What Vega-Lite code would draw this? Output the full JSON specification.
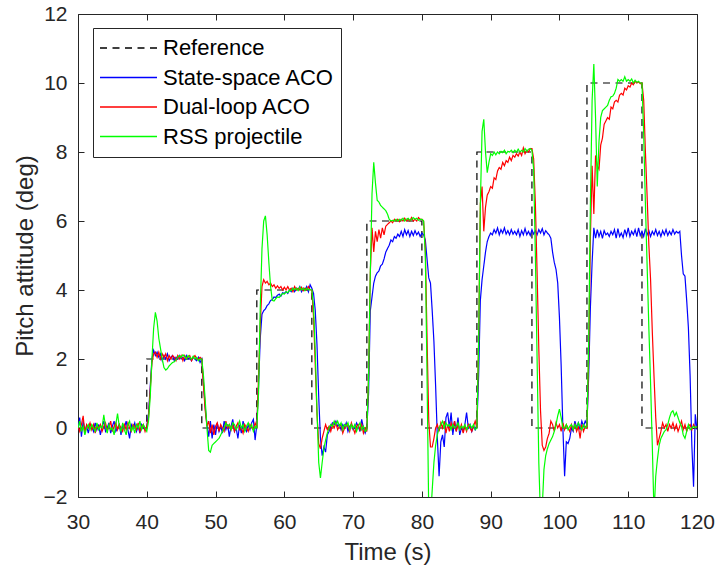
{
"$schema":"https://vega.github.io/schema/vega-lite/v6.json",
"width":619,"height":483,
"autosize":{"type":"none"},
"padding":{"left":78,"top":14,"right":19,"bottom":73},
"background":"white",
"config":{
 "view":{"stroke":"#262626","strokeWidth":1},
 "font":"Liberation Sans",
 "axis":{"grid":false,"domain":false,"labelFlush":false,"labelOverlap":false,"tickColor":"#262626","tickSize":-6,"tickWidth":1,"labelColor":"#262626","labelFontSize":21,"labelFont":"Liberation Sans","titleFont":"Liberation Sans","titleFontSize":24,"titleFontWeight":"normal","titleColor":"#262626"},
 "legend":{"orient":"none","legendX":15,"legendY":14,"symbolType":"stroke","symbolSize":3249,"symbolStrokeWidth":1.3,"clipHeight":28,"rowPadding":1.5,"labelFontSize":22,"labelFont":"Liberation Sans","labelColor":"#000000","labelLimit":400,"labelOffset":5,"padding":6,"fillColor":"#ffffff","strokeColor":"#262626","cornerRadius":0}
},
"datasets":{
"ref":[{"t":30,"v":0,"s":"r","i":0},{"t":40,"v":0,"s":"r","i":1},{"t":40,"v":2,"s":"r","i":2},{"t":48,"v":2,"s":"r","i":3},{"t":48,"v":0,"s":"r","i":4},{"t":56,"v":0,"s":"r","i":5},{"t":56,"v":4,"s":"r","i":6},{"t":64,"v":4,"s":"r","i":7},{"t":64,"v":0,"s":"r","i":8},{"t":72,"v":0,"s":"r","i":9},{"t":72,"v":6,"s":"r","i":10},{"t":80,"v":6,"s":"r","i":11},{"t":80,"v":0,"s":"r","i":12},{"t":88,"v":0,"s":"r","i":13},{"t":88,"v":8,"s":"r","i":14},{"t":96,"v":8,"s":"r","i":15},{"t":96,"v":0,"s":"r","i":16},{"t":104,"v":0,"s":"r","i":17},{"t":104,"v":10,"s":"r","i":18},{"t":112,"v":10,"s":"r","i":19},{"t":112,"v":0,"s":"r","i":20},{"t":120,"v":0,"s":"r","i":21}],
"sim":[
{"t":30,"b":-0.05,"d":0.05,"g":0},{"t":30.25,"b":0.3,"d":-0.1,"g":0.2},{"t":30.5,"b":-0.25,"d":0.1,"g":-0.1},{"t":30.75,"b":0.2,"d":0.35,"g":0.05},
{"t":31,"b":-0.1,"d":-0.15,"g":-0.2},{"t":31.25,"b":0.05,"d":0.1,"g":0},{"t":31.5,"b":-0.15,"d":0,"g":0.1},{"t":31.75,"b":0.1,"d":0.15,"g":-0.05},
{"t":32,"b":0.05,"d":-0.05,"g":0.1},{"t":32.25,"b":-0.1,"d":0.1,"g":0},{"t":32.5,"b":0.15,"d":-0.15,"g":-0.1},{"t":32.75,"b":-0.05,"d":0.05,"g":0.15},
{"t":33,"b":0.1,"d":0,"g":-0.05},{"t":33.25,"b":-0.2,"d":0.1,"g":0.05},{"t":33.5,"b":0.05,"d":-0.1,"g":0},{"t":33.75,"b":0.2,"d":0.05,"g":0.38},
{"t":34,"b":-0.1,"d":0.15,"g":0.05},{"t":34.25,"b":0,"d":-0.05,"g":-0.15},{"t":34.5,"b":0.15,"d":0,"g":0.1},{"t":34.75,"b":-0.15,"d":0.2,"g":-0.05},
{"t":35,"b":0.05,"d":-0.1,"g":0},{"t":35.25,"b":0.2,"d":0.05,"g":-0.2},{"t":35.5,"b":-0.1,"d":0.15,"g":0.1},{"t":35.75,"b":0,"d":-0.05,"g":0.42},
{"t":36,"b":0.1,"d":0.1,"g":0.05},{"t":36.25,"b":-0.2,"d":0,"g":-0.1},{"t":36.5,"b":0.1,"d":-0.1,"g":0.15},{"t":36.75,"b":0,"d":0.1,"g":-0.05},
{"t":37,"b":0.2,"d":-0.05,"g":-0.2},{"t":37.25,"b":-0.05,"d":0.15,"g":0.1},{"t":37.5,"b":-0.3,"d":0,"g":0.2},{"t":37.75,"b":0.1,"d":-0.1,"g":-0.1},
{"t":38,"b":0,"d":0.1,"g":0.05},{"t":38.25,"b":0.15,"d":0.05,"g":-0.15},{"t":38.5,"b":-0.1,"d":-0.05,"g":0.1},{"t":38.75,"b":0.05,"d":0.15,"g":0},
{"t":39,"b":-0.15,"d":-0.1,"g":0.2},{"t":39.25,"b":0.1,"d":0.05,"g":-0.05},{"t":39.5,"b":0,"d":0.1,"g":0.1},{"t":39.75,"b":-0.05,"d":-0.1,"g":0},
{"t":40,"b":0.05,"d":0.05,"g":-0.1},{"t":40.25,"b":0.4,"d":0.3,"g":0.2},{"t":40.5,"b":1.2,"d":1.1,"g":0.9},{"t":40.75,"b":2,"d":1.9,"g":2},
{"t":41,"b":2.25,"d":2.15,"g":2.9},{"t":41.25,"b":2.1,"d":2.2,"g":3.35},{"t":41.5,"b":2.2,"d":2.05,"g":3.1},{"t":41.75,"b":2.05,"d":2.2,"g":2.6},
{"t":42,"b":2.15,"d":2,"g":2.3},{"t":42.25,"b":1.95,"d":2.15,"g":2},{"t":42.5,"b":2.1,"d":2.05,"g":1.75},{"t":42.75,"b":2,"d":2.15,"g":1.68},
{"t":43,"b":2.15,"d":1.95,"g":1.72},{"t":43.25,"b":1.95,"d":2.1,"g":1.8},{"t":43.5,"b":2.05,"d":2,"g":1.85},{"t":43.75,"b":2.1,"d":2.1,"g":1.9},
{"t":44,"b":1.95,"d":2.05,"g":1.92},{"t":44.25,"b":2.05,"d":1.95,"g":1.98},{"t":44.5,"b":2,"d":2.1,"g":2.05},{"t":44.75,"b":2.1,"d":2,"g":2.1},
{"t":45,"b":2,"d":2.1,"g":2.05},{"t":45.25,"b":2.05,"d":1.95,"g":2.12},{"t":45.5,"b":1.95,"d":2.1,"g":2.08},{"t":45.75,"b":2.1,"d":2,"g":2},
{"t":46,"b":2,"d":2.05,"g":2.1},{"t":46.25,"b":2.05,"d":2.1,"g":2.05},{"t":46.5,"b":1.95,"d":1.95,"g":2},{"t":46.75,"b":2.05,"d":2.05,"g":2.08},
{"t":47,"b":2,"d":2.1,"g":2},{"t":47.25,"b":1.95,"d":2,"g":2.05},{"t":47.5,"b":2.05,"d":2,"g":1.95},{"t":47.75,"b":1.9,"d":2.05,"g":2},
{"t":48,"b":2,"d":2,"g":2},{"t":48.25,"b":1.3,"d":1.2,"g":1.5},{"t":48.5,"b":0.6,"d":0.5,"g":0.8},{"t":48.75,"b":0.1,"d":0.05,"g":0},
{"t":49,"b":-0.25,"d":0.2,"g":-0.65},{"t":49.25,"b":0.2,"d":-0.15,"g":-0.7},{"t":49.5,"b":-0.3,"d":0.1,"g":-0.5},{"t":49.75,"b":0.1,"d":-0.2,"g":-0.45},
{"t":50,"b":-0.2,"d":0.05,"g":-0.4},{"t":50.25,"b":0.15,"d":0.15,"g":-0.35},{"t":50.5,"b":-0.1,"d":-0.1,"g":-0.3},{"t":50.75,"b":0.05,"d":0.1,"g":-0.2},
{"t":51,"b":-0.15,"d":0,"g":-0.1},{"t":51.25,"b":0.2,"d":-0.1,"g":0},{"t":51.5,"b":-0.05,"d":0.2,"g":0.15},{"t":51.75,"b":0.1,"d":0,"g":0.05},
{"t":52,"b":-0.25,"d":0.1,"g":0.1},{"t":52.25,"b":0.05,"d":-0.05,"g":-0.05},{"t":52.5,"b":0.25,"d":0.1,"g":0.15},{"t":52.75,"b":-0.1,"d":-0.1,"g":0.1},
{"t":53,"b":0,"d":0.05,"g":-0.05},{"t":53.25,"b":-0.3,"d":0.15,"g":0.05},{"t":53.5,"b":0.1,"d":-0.05,"g":0.2},{"t":53.75,"b":-0.15,"d":0,"g":0},
{"t":54,"b":0.2,"d":-0.15,"g":0.1},{"t":54.25,"b":0,"d":0.1,"g":-0.1},{"t":54.5,"b":-0.1,"d":0,"g":0.05},{"t":54.75,"b":0.1,"d":-0.1,"g":0.15},
{"t":55,"b":-0.05,"d":0.1,"g":0},{"t":55.25,"b":0.15,"d":0,"g":0.1},{"t":55.5,"b":0.25,"d":-0.05,"g":-0.1},{"t":55.75,"b":-0.35,"d":0.15,"g":0.05},
{"t":56,"b":0.1,"d":0,"g":0},{"t":56.25,"b":1.2,"d":1.5,"g":1},{"t":56.5,"b":2.6,"d":3,"g":3.5},{"t":56.75,"b":3.3,"d":4.1,"g":5.2},
{"t":57,"b":3.4,"d":4.3,"g":6},{"t":57.25,"b":3.45,"d":4.2,"g":6.15},{"t":57.5,"b":3.55,"d":4.25,"g":5.6},{"t":57.75,"b":3.6,"d":4.15,"g":4.8},
{"t":58,"b":3.7,"d":4.2,"g":4.1},{"t":58.25,"b":3.72,"d":4.1,"g":3.7},{"t":58.5,"b":3.8,"d":4.15,"g":3.68},{"t":58.75,"b":3.78,"d":4.05,"g":3.75},
{"t":59,"b":3.85,"d":4.12,"g":3.8},{"t":59.25,"b":3.88,"d":4.05,"g":3.78},{"t":59.5,"b":3.82,"d":4.1,"g":3.85},{"t":59.75,"b":3.92,"d":4,"g":3.9},
{"t":60,"b":3.9,"d":4.08,"g":3.88},{"t":60.25,"b":3.95,"d":4,"g":3.95},{"t":60.5,"b":3.9,"d":4.1,"g":3.92},{"t":60.75,"b":4,"d":4,"g":4},
{"t":61,"b":3.95,"d":4.05,"g":3.98},{"t":61.25,"b":4.05,"d":3.95,"g":4.05},{"t":61.5,"b":3.95,"d":4.1,"g":4},{"t":61.75,"b":4.05,"d":4,"g":4.05},
{"t":62,"b":4,"d":4.05,"g":3.98},{"t":62.25,"b":4.1,"d":4,"g":4.08},{"t":62.5,"b":3.95,"d":4.08,"g":4},{"t":62.75,"b":4.05,"d":3.98,"g":4.05},
{"t":63,"b":4,"d":4.05,"g":3.98},{"t":63.25,"b":4.1,"d":4,"g":4.05},{"t":63.5,"b":3.95,"d":4.1,"g":4},{"t":63.75,"b":4.15,"d":4,"g":4.02},
{"t":64,"b":4.05,"d":4,"g":4},{"t":64.25,"b":3.9,"d":3.2,"g":3.5},{"t":64.5,"b":3.4,"d":1.8,"g":2.2},{"t":64.75,"b":2.4,"d":0.4,"g":0.5},
{"t":65,"b":0.9,"d":-0.45,"g":-1},{"t":65.25,"b":-0.3,"d":-0.6,"g":-1.45},{"t":65.5,"b":-0.8,"d":-0.3,"g":-1},{"t":65.75,"b":-0.55,"d":-0.1,"g":-0.6},
{"t":66,"b":-0.7,"d":0.1,"g":-0.35},{"t":66.25,"b":-0.2,"d":-0.05,"g":-0.15},{"t":66.5,"b":-0.1,"d":0.05,"g":0},{"t":66.75,"b":0.05,"d":-0.1,"g":0.1},
{"t":67,"b":0.15,"d":0.1,"g":0.05},{"t":67.25,"b":0.1,"d":0,"g":0.2},{"t":67.5,"b":0.2,"d":0.15,"g":0.1},{"t":67.75,"b":0.05,"d":-0.05,"g":0.2},
{"t":68,"b":0.1,"d":0.05,"g":0.05},{"t":68.25,"b":-0.05,"d":0.1,"g":0.15},{"t":68.5,"b":0.1,"d":-0.15,"g":-0.05},{"t":68.75,"b":0,"d":0,"g":0.1},
{"t":69,"b":0.15,"d":0.1,"g":0.05},{"t":69.25,"b":-0.1,"d":0.05,"g":0.15},{"t":69.5,"b":0.05,"d":-0.1,"g":-0.05},{"t":69.75,"b":0.1,"d":0.15,"g":0.1},
{"t":70,"b":-0.05,"d":0,"g":0},{"t":70.25,"b":0,"d":-0.15,"g":0.1},{"t":70.5,"b":0.15,"d":0.05,"g":-0.1},{"t":70.75,"b":0.05,"d":0.1,"g":0.05},
{"t":71,"b":-0.1,"d":-0.05,"g":0.15},{"t":71.25,"b":0.25,"d":0.1,"g":-0.05},{"t":71.5,"b":0,"d":-0.15,"g":0.05},{"t":71.75,"b":-0.15,"d":0,"g":-0.1},
{"t":72,"b":0,"d":-0.1,"g":-0.05},{"t":72.25,"b":1,"d":1.5,"g":1.5},{"t":72.5,"b":3.4,"d":4.5,"g":4.5},{"t":72.75,"b":3.8,"d":5.8,"g":6.8},
{"t":73,"b":4.2,"d":5.1,"g":7.7},{"t":73.25,"b":4.4,"d":5.7,"g":7.1},{"t":73.5,"b":4.5,"d":5.4,"g":6.6},{"t":73.75,"b":4.55,"d":5.75,"g":6.55},
{"t":74,"b":4.7,"d":5.5,"g":6.45},{"t":74.25,"b":4.75,"d":5.8,"g":6.4},{"t":74.5,"b":4.9,"d":5.6,"g":6.35},{"t":74.75,"b":5.1,"d":5.85,"g":6.3},
{"t":75,"b":5.2,"d":5.9,"g":6.2},{"t":75.25,"b":5.3,"d":5.95,"g":6.05},{"t":75.5,"b":5.45,"d":6,"g":6},{"t":75.75,"b":5.4,"d":5.95,"g":6.02},
{"t":76,"b":5.55,"d":6.05,"g":6},{"t":76.25,"b":5.5,"d":6,"g":6.05},{"t":76.5,"b":5.62,"d":6.05,"g":6},{"t":76.75,"b":5.55,"d":5.98,"g":6.05},
{"t":77,"b":5.7,"d":6.05,"g":6.02},{"t":77.25,"b":5.55,"d":6,"g":6.08},{"t":77.5,"b":5.75,"d":6.08,"g":6},{"t":77.75,"b":5.6,"d":6,"g":6.05},
{"t":78,"b":5.72,"d":6.05,"g":6.08},{"t":78.25,"b":5.55,"d":6,"g":6.02},{"t":78.5,"b":5.7,"d":6.1,"g":6.05},{"t":78.75,"b":5.58,"d":6,"g":6.1},
{"t":79,"b":5.72,"d":6.05,"g":6.05},{"t":79.25,"b":5.6,"d":6,"g":6.08},{"t":79.5,"b":5.68,"d":6.1,"g":6.02},{"t":79.75,"b":5.55,"d":6.05,"g":6.05},
{"t":80,"b":5.65,"d":6.05,"g":6.05},{"t":80.25,"b":5.6,"d":6,"g":6},{"t":80.5,"b":5.45,"d":5.2,"g":5},{"t":80.75,"b":4.9,"d":2.6,"g":1.5},
{"t":81,"b":4.35,"d":0.2,"g":-2.5},{"t":81.25,"b":4.2,"d":-0.55,"g":-2.6},{"t":81.5,"b":3.4,"d":-0.55,"g":-1.8},{"t":81.75,"b":2.5,"d":-0.3,"g":-1},
{"t":82,"b":1.2,"d":0,"g":-0.5},{"t":82.25,"b":-0.3,"d":0.1,"g":-0.2},{"t":82.5,"b":-1.4,"d":-0.1,"g":0},{"t":82.75,"b":-0.4,"d":0.15,"g":0.1},
{"t":83,"b":-0.2,"d":0,"g":0.2},{"t":83.25,"b":-0.55,"d":0.2,"g":0},{"t":83.5,"b":0.3,"d":-0.15,"g":0.15},{"t":83.75,"b":0.45,"d":0.1,"g":0.05},
{"t":84,"b":0,"d":-0.1,"g":0.1},{"t":84.25,"b":0.45,"d":0.15,"g":-0.05},{"t":84.5,"b":-0.2,"d":0,"g":0.1},{"t":84.75,"b":0.2,"d":0.2,"g":0},
{"t":85,"b":-0.1,"d":-0.1,"g":0.05},{"t":85.25,"b":0.3,"d":0.1,"g":0.15},{"t":85.5,"b":-0.2,"d":-0.05,"g":-0.05},{"t":85.75,"b":0,"d":0.1,"g":0.05},
{"t":86,"b":-0.1,"d":-0.15,"g":0},{"t":86.25,"b":0.1,"d":0.05,"g":0.1},{"t":86.5,"b":0.45,"d":-0.1,"g":-0.05},{"t":86.75,"b":0,"d":0.1,"g":0.05},
{"t":87,"b":0.1,"d":0,"g":0.1},{"t":87.25,"b":-0.1,"d":-0.1,"g":0},{"t":87.5,"b":0.05,"d":0.05,"g":0.1},{"t":87.75,"b":-0.05,"d":0.2,"g":-0.05},
{"t":88,"b":0.1,"d":0,"g":0},{"t":88.25,"b":1.5,"d":2.5,"g":2.5},{"t":88.5,"b":3.7,"d":6.5,"g":6.5},{"t":88.75,"b":4.3,"d":7,"g":8.6},
{"t":89,"b":4.7,"d":5.7,"g":8.95},{"t":89.25,"b":5.1,"d":6.4,"g":8},{"t":89.5,"b":5.4,"d":6.75,"g":7.4},{"t":89.75,"b":5.55,"d":6.85,"g":7.7},
{"t":90,"b":5.65,"d":7,"g":7.95},{"t":90.25,"b":5.6,"d":6.95,"g":7.9},{"t":90.5,"b":5.75,"d":7.25,"g":8},{"t":90.75,"b":5.65,"d":7.2,"g":7.92},
{"t":91,"b":5.8,"d":7.45,"g":8},{"t":91.25,"b":5.6,"d":7.55,"g":7.95},{"t":91.5,"b":5.75,"d":7.5,"g":8.02},{"t":91.75,"b":5.65,"d":7.7,"g":7.98},
{"t":92,"b":5.8,"d":7.6,"g":8.05},{"t":92.25,"b":5.62,"d":7.75,"g":7.95},{"t":92.5,"b":5.72,"d":7.7,"g":8.02},{"t":92.75,"b":5.6,"d":7.85,"g":8},
{"t":93,"b":5.75,"d":7.75,"g":8.05},{"t":93.25,"b":5.62,"d":7.9,"g":7.98},{"t":93.5,"b":5.7,"d":7.85,"g":8.05},{"t":93.75,"b":5.6,"d":7.95,"g":8},
{"t":94,"b":5.75,"d":7.88,"g":8.08},{"t":94.25,"b":5.55,"d":8,"g":8},{"t":94.5,"b":5.72,"d":7.9,"g":8.05},{"t":94.75,"b":5.6,"d":8.12,"g":8},
{"t":95,"b":5.78,"d":7.95,"g":8.1},{"t":95.25,"b":5.6,"d":8.05,"g":8.02},{"t":95.5,"b":5.7,"d":8,"g":8.08},{"t":95.75,"b":5.58,"d":8.1,"g":8.1},
{"t":96,"b":5.75,"d":8.1,"g":8.05},{"t":96.25,"b":5.62,"d":7.8,"g":7.5},{"t":96.5,"b":5.72,"d":6.5,"g":5},{"t":96.75,"b":5.6,"d":4.5,"g":2},
{"t":97,"b":5.75,"d":2.3,"g":-1},{"t":97.25,"b":5.65,"d":0.5,"g":-2.6},{"t":97.5,"b":5.78,"d":-0.5,"g":-2.3},{"t":97.75,"b":5.6,"d":-0.65,"g":-1.2},
{"t":98,"b":5.72,"d":-0.55,"g":-0.8},{"t":98.25,"b":5.65,"d":-0.3,"g":-0.6},{"t":98.5,"b":5.6,"d":-0.15,"g":-0.45},{"t":98.75,"b":5.5,"d":0.2,"g":-0.35},
{"t":99,"b":5.1,"d":0.1,"g":-0.25},{"t":99.25,"b":4.8,"d":-0.1,"g":-0.1},{"t":99.5,"b":4.6,"d":0.15,"g":0.1},{"t":99.75,"b":4.2,"d":0,"g":0.35},
{"t":100,"b":3.2,"d":0.1,"g":0.55},{"t":100.25,"b":1.8,"d":-0.1,"g":0.3},{"t":100.5,"b":0,"d":0.15,"g":0},{"t":100.75,"b":-1.4,"d":-0.05,"g":0},
{"t":101,"b":-0.4,"d":0.1,"g":0.1},{"t":101.25,"b":-0.45,"d":0,"g":-0.05},{"t":101.5,"b":-0.3,"d":-0.1,"g":0.05},{"t":101.75,"b":0,"d":0.1,"g":0.1},
{"t":102,"b":-0.1,"d":-0.05,"g":-0.05},{"t":102.25,"b":0.2,"d":0.1,"g":0.1},{"t":102.5,"b":0,"d":-0.1,"g":0},{"t":102.75,"b":0.15,"d":0.05,"g":0.15},
{"t":103,"b":-0.05,"d":-0.3,"g":0.05},{"t":103.25,"b":0.2,"d":0.1,"g":-0.05},{"t":103.5,"b":0.05,"d":-0.1,"g":0.1},{"t":103.75,"b":0.2,"d":0.05,"g":0},
{"t":104,"b":0.1,"d":0,"g":0.05},{"t":104.25,"b":1.5,"d":2,"g":2.5},{"t":104.5,"b":3.5,"d":5.5,"g":6.5},{"t":104.75,"b":4.8,"d":7.6,"g":9.5},
{"t":105,"b":5.8,"d":6.2,"g":10.55},{"t":105.25,"b":5.5,"d":7.9,"g":9},{"t":105.5,"b":5.75,"d":7.6,"g":7},{"t":105.75,"b":5.55,"d":7.5,"g":8.3},
{"t":106,"b":5.7,"d":8.2,"g":9},{"t":106.25,"b":5.5,"d":8.4,"g":9.2},{"t":106.5,"b":5.72,"d":8.8,"g":9.25},{"t":106.75,"b":5.6,"d":8.9,"g":9.3},
{"t":107,"b":5.65,"d":9,"g":9.35},{"t":107.25,"b":5.55,"d":8.95,"g":9.5},{"t":107.5,"b":5.7,"d":9.3,"g":9.6},{"t":107.75,"b":5.6,"d":9.25,"g":9.62},
{"t":108,"b":5.75,"d":9.45,"g":9.7},{"t":108.25,"b":5.5,"d":9.5,"g":9.85},{"t":108.5,"b":5.78,"d":9.45,"g":10.1},{"t":108.75,"b":5.55,"d":9.65,"g":10.05},
{"t":109,"b":5.65,"d":9.7,"g":10.1},{"t":109.25,"b":5.52,"d":9.65,"g":10.05},{"t":109.5,"b":5.75,"d":9.85,"g":10.18},{"t":109.75,"b":5.58,"d":9.8,"g":10.05},
{"t":110,"b":5.8,"d":9.92,"g":10.1},{"t":110.25,"b":5.55,"d":9.88,"g":10.05},{"t":110.5,"b":5.7,"d":10,"g":10.12},{"t":110.75,"b":5.6,"d":9.95,"g":10},
{"t":111,"b":5.75,"d":10.05,"g":10.08},{"t":111.25,"b":5.55,"d":10,"g":10.02},{"t":111.5,"b":5.8,"d":10.03,"g":10.05},{"t":111.75,"b":5.58,"d":9.98,"g":10},
{"t":112,"b":5.7,"d":10,"g":10},{"t":112.25,"b":5.55,"d":9.5,"g":8.5},{"t":112.5,"b":5.78,"d":8,"g":6.5},{"t":112.75,"b":5.6,"d":6.7,"g":4.7},
{"t":113,"b":5.72,"d":5.3,"g":2.9},{"t":113.25,"b":5.55,"d":4.3,"g":1.3},{"t":113.5,"b":5.7,"d":2.8,"g":-0.5},{"t":113.75,"b":5.6,"d":1.5,"g":-2.5},
{"t":114,"b":5.75,"d":0.3,"g":-1.4},{"t":114.25,"b":5.58,"d":-0.5,"g":-0.9},{"t":114.5,"b":5.7,"d":-0.3,"g":-0.5},{"t":114.75,"b":5.55,"d":-0.1,"g":-0.3},
{"t":115,"b":5.72,"d":0.15,"g":-0.2},{"t":115.25,"b":5.6,"d":0,"g":-0.1},{"t":115.5,"b":5.75,"d":0.1,"g":-0.05},{"t":115.75,"b":5.58,"d":-0.1,"g":0.1},
{"t":116,"b":5.7,"d":0.1,"g":0.3},{"t":116.25,"b":5.6,"d":0,"g":0.45},{"t":116.5,"b":5.75,"d":0.15,"g":0.5},{"t":116.75,"b":5.62,"d":-0.05,"g":0.35},
{"t":117,"b":5.7,"d":0.1,"g":0.45},{"t":117.25,"b":5.65,"d":-0.1,"g":0.3},{"t":117.5,"b":5.7,"d":0.05,"g":0.15},{"t":117.75,"b":5,"d":0.2,"g":0.05},
{"t":118,"b":4.47,"d":-0.05,"g":-0.2},{"t":118.25,"b":4.4,"d":0.1,"g":-0.3},{"t":118.5,"b":3.7,"d":-0.1,"g":-0.1},{"t":118.75,"b":2.9,"d":0.05,"g":0.1},
{"t":119,"b":1.5,"d":0.1,"g":-0.05},{"t":119.25,"b":-0.5,"d":-0.05,"g":0},{"t":119.5,"b":-1.7,"d":0.1,"g":0.05},{"t":119.75,"b":0.4,"d":0,"g":0},
{"t":120,"b":-0.05,"d":0.05,"g":0.05}
]},
"layer":[
{"data":{"name":"ref"},
 "mark":{"type":"line","strokeWidth":1.2,"clip":true},
 "encoding":{
  "x":{"field":"t","type":"quantitative","scale":{"domain":[30,120],"nice":false,"zero":false},
       "axis":{"orient":"bottom","values":[30,40,50,60,70,80,90,100,110,120],"title":"Time (s)","labelPadding":20,"titlePadding":8}},
  "y":{"field":"v","type":"quantitative","scale":{"domain":[-2,12],"nice":false,"zero":false},
       "axis":{"orient":"left","values":[-2,0,2,4,6,8,10,12],"title":"Pitch attitude (deg)","labelPadding":17,"titlePadding":6}},
  "color":{"field":"s","type":"nominal","scale":{"domain":["r","b","d","g"],"range":["#000000","#0000ff","#ff0000","#00ff00"]},
           "legend":{"title":null,"labelExpr":"datum.label=='r'?'Reference':datum.label=='b'?'State-space ACO':datum.label=='d'?'Dual-loop ACO':'RSS projectile'"}},
  "strokeDash":{"field":"s","type":"nominal","scale":{"domain":["r","b","d","g"],"range":[[7,5.5],[1,0],[1,0],[1,0]]},
           "legend":{"title":null,"labelExpr":"datum.label=='r'?'Reference':datum.label=='b'?'State-space ACO':datum.label=='d'?'Dual-loop ACO':'RSS projectile'"}},
  "order":{"field":"i","type":"quantitative"}
 }},
{"data":{"name":"sim"},
 "transform":[{"fold":["b","d","g"],"as":["s","v"]}],
 "mark":{"type":"line","strokeWidth":1.2,"clip":true},
 "encoding":{
  "x":{"field":"t","type":"quantitative","axis":{"orient":"top","labels":false,"title":null,"values":[30,40,50,60,70,80,90,100,110,120]}},
  "y":{"field":"v","type":"quantitative","axis":{"orient":"right","labels":false,"title":null,"values":[-2,0,2,4,6,8,10,12]}},
  "color":{"field":"s","type":"nominal"},
  "strokeDash":{"field":"s","type":"nominal"}
 }}
],
"resolve":{"axis":{"x":"independent","y":"independent"}}
}
